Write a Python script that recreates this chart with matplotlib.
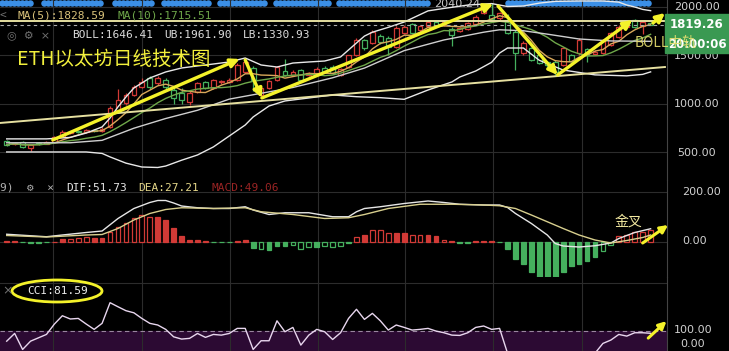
import numpy as np
import pandas as pd
import matplotlib
import matplotlib.pyplot as plt
from matplotlib.patches import Rectangle, Ellipse

matplotlib.use('Agg')

# ---- candle data (one per day) ----
opens = [615, 585, 608, 550, 600, 590, 612, 663, 700, 725, 712, 735, 720, 760, 920, 1010, 1095, 1180, 1265, 1215,
         1245, 1145, 1110, 1020, 1125, 1225, 1165, 1225, 1230, 1250, 1330, 1370, 1095, 1160, 1250, 1340, 1300, 1350,
         1300, 1320, 1370, 1380, 1300, 1380, 1505, 1660, 1630, 1700, 1680, 1590, 1735, 1825, 1760, 1800, 1840, 1815,
         1770, 1750, 1770, 1825, 1940, 1920, 1886, 1866, 1742, 1525, 1577, 1505, 1430, 1433, 1402, 1505, 1525, 1565,
         1520, 1525, 1608, 1690, 1790, 1866, 1800, 1830]
highs = [630, 610, 620, 585, 610, 615, 670, 730, 725, 735, 740, 745, 760, 975, 1150, 1110, 1200, 1270, 1290, 1290,
         1270, 1170, 1160, 1130, 1230, 1240, 1260, 1250, 1265, 1420, 1470, 1390, 1180, 1250, 1390, 1465, 1350, 1360,
         1330, 1380, 1390, 1400, 1370, 1510, 1680, 1670, 1760, 1720, 1700, 1800, 1810, 1840, 1815, 1860, 1850, 1870,
         1790, 1795, 1845, 1915, 2020, 2040, 1950, 1930, 1760, 1650, 1590, 1520, 1445, 1450, 1590, 1520, 1680, 1580,
         1555, 1675, 1745, 1810, 1860, 1880, 1855, 1845]
lows = [570, 575, 550, 520, 580, 585, 605, 655, 690, 700, 705, 715, 715, 750, 910, 990, 1080, 1160, 1150, 1200,
        1130, 1000, 1000, 990, 1110, 1150, 1150, 1210, 1220, 1240, 1320, 1130, 1060, 1150, 1240, 1290, 1290, 1240,
        1290, 1310, 1320, 1305, 1290, 1370, 1495, 1560, 1620, 1620, 1500, 1580, 1720, 1720, 1745, 1790, 1790, 1800,
        1600, 1740, 1760, 1815, 1930, 1870, 1870, 1720, 1350, 1510, 1440, 1410, 1380, 1300, 1390, 1430, 1510, 1430,
        1505, 1515, 1600, 1680, 1780, 1785, 1720, 1810]
closes = [580, 600, 560, 575, 590, 605, 660, 712, 715, 712, 730, 722, 745, 955, 1040, 1090, 1175, 1230, 1175, 1265,
          1175, 1060, 1040, 1110, 1215, 1165, 1245, 1235, 1245, 1400, 1430, 1250, 1165, 1235, 1380, 1300, 1330, 1250,
          1315, 1360, 1330, 1320, 1360, 1500, 1660, 1580, 1740, 1640, 1590, 1780, 1795, 1735, 1800, 1840, 1800, 1850,
          1710, 1780, 1830, 1900, 2000, 1880, 1938, 1732, 1525, 1629, 1453, 1422, 1400, 1330, 1577, 1443, 1660, 1505,
          1540, 1660, 1732, 1794, 1840, 1794, 1840, 1819]

# ---- BOLL bands ----
ub_idx = [0, 5, 8, 10, 12, 13, 14, 15, 16, 17, 18, 20, 22, 24, 26, 28, 30, 32, 34, 36, 38, 40, 42, 43, 44, 45, 46,
          48, 50, 53, 55, 58, 61, 63, 65, 67, 69, 72, 75, 77, 78, 79, 80, 81]
ub_val = [640, 640, 655, 700, 763, 855, 970, 1072, 1165, 1216, 1268, 1330, 1371, 1392, 1412, 1433, 1474, 1402, 1381,
          1422, 1433, 1443, 1485, 1557, 1629, 1700, 1740, 1790, 1845, 1960, 1985, 2020, 2035, 2005, 2010, 2040, 2058,
          2062, 2062, 2050, 2020, 2000, 1975, 1962]
mb_idx = [0, 8, 12, 16, 20, 24, 28, 32, 36, 41, 45, 50, 55, 60, 62, 65, 68, 72, 76, 81]
mb_val = [600, 600, 625, 750, 850, 935, 1050, 1110, 1170, 1270, 1370, 1550, 1660, 1740, 1765, 1755, 1720, 1670, 1650,
          1646]
lb_idx = [0, 10, 12, 13, 15, 17, 19, 20, 22, 24, 26, 28, 30, 31, 33, 35, 38, 41, 44, 47, 50, 53, 56, 57, 59, 61, 62,
          63, 65, 67, 70, 74, 78, 80, 81]
lb_val = [505, 505, 490, 454, 390, 350, 345, 360, 420, 474, 557, 670, 783, 866, 979, 1031, 1062, 1093, 1075, 1065,
          1048, 1144, 1227, 1278, 1340, 1430, 1525, 1577, 1577, 1450, 1350, 1300, 1290, 1305, 1331]

# ---- MACD ----
macd = [2, 2, -2, -3, -3, -2, 1, 11, 13, 16, 20, 16, 17, 40, 60, 77, 97, 107, 100, 100, 89, 56, 24, 7, 9, 2, -2, -2,
        -2, 4, 6, -23, -29, -33, -17, -15, -11, -29, -20, -20, -18, -20, -18, -4, 20, 27, 47, 47, 37, 37, 37, 29, 29,
        27, 23, 9, 4, -4, -4, 2, 3, 2, -2, -29, -69, -89, -120, -145, -145, -145, -120, -96, -88, -75, -60, -37, -13,
        23, 27, 40, 40, 47]
macd_fill = "ffffffffhhhffhhhhhhffffffhffffffhfffhhhfhhhfhfhhhffhhffhfffffffffffffffffffhhhhhhhhhhhf"
dif_idx = [0, 5, 7, 10, 12, 14, 16, 18, 19, 20, 21, 22, 24, 26, 28, 30, 31, 33, 35, 38, 41, 43, 44, 45, 47, 50, 53,
           55, 57, 60, 62, 63, 64, 66, 68, 69, 70, 72, 74, 76, 77, 79, 81]
dif_val = [30, 20, 27, 37, 43, 93, 133, 157, 165, 165, 155, 143, 136, 133, 133, 140, 127, 109, 116, 116, 100, 100,
           120, 133, 140, 153, 163, 157, 150, 147, 147, 137, 113, 73, 27, -7, -17, -21, -16, -5, 13, 37, 52]
dea_idx = [0, 5, 10, 12, 14, 16, 18, 20, 22, 26, 30, 32, 36, 40, 43, 45, 48, 52, 56, 60, 62, 64, 66, 68, 70, 72, 74,
           76, 78, 80, 81]
dea_val = [25, 19, 27, 29, 53, 87, 113, 129, 136, 133, 136, 120, 109, 93, 96, 109, 133, 150, 150, 147, 144, 133, 107,
           80, 53, 27, 7, -5, 5, 17, 27]

# ---- CCI ----
cci = [26, 81, -33, 26, 50, 74, 148, 207, 184, 188, 148, 110, 153, 300, 271, 243, 228, 188, 153, 141, 110, 57, 41,
       46, 81, 53, 74, 69, 81, 117, 117, -33, 29, 29, 171, 93, 124, -2, 69, 110, 93, 38, 86, 188, 253, 181, 224, 171,
       105, 141, 124, 105, 110, 117, 98, 86, 69, 67, 86, 124, 134, 110, 117, -60, -150, -200, -220, -230, -210, -180,
       -160, -130, -110, -90, -60, 10, 34, 74, 62, 86, 86, 82]

# ---- hand drawn trend arrows (day index, price) ----
arrow_tails = [(5.8, 629), (30.0, 1454), (32.1, 1062), (61.8, 2010), (69.3, 1299), (81.3, 1835)]
arrow_heads = [(29.3, 1464), (32.1, 1062), (61.2, 2031), (69.3, 1299), (78.7, 1866), (82.8, 1938)]
trend_x = [-0.84, 82.8]
trend_y = [804, 1381]
resist_level = 1859
last_price = 1819.26

W, H = 729, 351
RED, GREEN = '#d23a36', '#45b05e'
GRID = '#2c2c2c'

fig = plt.figure(figsize=(W / 100, H / 100), dpi=100, facecolor='black')


def px_axes(top, bottom, right, zorder):
    a = fig.add_axes([0, 1 - bottom / H, right / W, (bottom - top) / H], zorder=zorder)
    a.set_facecolor('none')
    return a


bg = px_axes(0, H, W, 0)
bg.set_facecolor('black')
fg = px_axes(0, H, W, 5)
for a in (bg, fg):
    a.set_xlim(0, W)
    a.set_ylim(H, 0)
    a.axis('off')

ax = px_axes(0, 180, 667, 1)
ax_macd = px_axes(180, 277, 667, 1)
ax_cci = px_axes(277, 351, 667, 1)

x = np.arange(len(closes))
for a in (ax, ax_macd, ax_cci):
    a.set_xlim(-0.843, 83.06)
    a.set_xticks([5.8, 17, 28.1, 39.2, 50.1, 61.2, 72.4])
    a.grid(True, color=GRID, lw=0.8)
    a.tick_params(left=False, bottom=False, labelleft=False, labelbottom=False)
    for s in ('top', 'left', 'bottom'):
        a.spines[s].set_visible(False)
    a.spines['right'].set_color('#444444')
    a.set_axisbelow(True)

# main panel
ax.set_ylim(216, 2072)
ax.set_yticks([500, 1000, 1500, 2000])
o, c = np.array(opens), np.array(closes)
cols = [RED if cc >= oo else GREEN for oo, cc in zip(o, c)]
ax.vlines(x, lows, highs, colors=cols, lw=0.9, zorder=2)
ax.bar(x, np.maximum(np.abs(c - o), 8), bottom=np.minimum(o, c), width=0.6,
       facecolor='black', edgecolor=cols, lw=0.9, zorder=2)

ma5 = pd.Series(closes).rolling(5, min_periods=1).mean()
ma10 = pd.Series(closes).rolling(10, min_periods=1).mean()
ax.plot(x, ma5, color='#d9a85a', lw=1, zorder=3)
ax.plot(x, ma10, color='#6fa84a', lw=1, zorder=3)
ax.plot(ub_idx, ub_val, color='#e8e8e8', lw=1, zorder=3)
ax.plot(mb_idx, mb_val, color='#cfcfcf', lw=1, zorder=3)
ax.plot(lb_idx, lb_val, color='#e8e8e8', lw=1, zorder=3)

ax.plot(trend_x, trend_y, color='#e6e0a0', lw=1.4, zorder=4)
ax.axhline(resist_level, color='#e6e0a0', lw=1.4, zorder=4)
ax.axhline(last_price, color='#aaaaaa', lw=0.8, ls=(0, (3, 3)), zorder=4)
for t, h in zip(arrow_tails, arrow_heads):
    ax.annotate('', xy=h, xytext=t, annotation_clip=False,
                arrowprops=dict(arrowstyle='-|>', color='#f4f22a', lw=2.4, mutation_scale=13,
                                shrinkA=0, shrinkB=0), zorder=6)

# MACD panel
ax_macd.set_ylim(-141, 247)
ax_macd.set_yticks([0, 200])
mcol = [RED if v > 0 else GREEN for v in macd]
mface = [mc if f == 'f' else 'black' for mc, f in zip(mcol, macd_fill)]
ax_macd.bar(x, macd, width=0.6, facecolor=mface, edgecolor=mcol, lw=0.9, zorder=2)
ax_macd.plot(dif_idx, dif_val, color='#e6e6e6', lw=1, zorder=3)
ax_macd.plot(dea_idx, dea_val, color='#d8cf8e', lw=1, zorder=3)
ax_macd.annotate('', xy=(83.2, 67), xytext=(80.0, -5), annotation_clip=False,
                 arrowprops=dict(arrowstyle='-|>', color='#f4f22a', lw=2.2, mutation_scale=11,
                                 shrinkA=0, shrinkB=0), zorder=6)

# CCI panel
ax_cci.set_ylim(-44, 483)
ax_cci.set_yticks([440])
ax_cci.axhspan(-100, 100, color='#2c0a33', zorder=0)
ax_cci.axhline(100, color='#9a86a0', lw=0.8, ls=(0, (4, 3)), zorder=1)
ax_cci.plot(x, cci, color='#e8d6ee', lw=1, zorder=3)
ax_cci.annotate('', xy=(83.0, 169), xytext=(80.7, 48), annotation_clip=False,
                arrowprops=dict(arrowstyle='-|>', color='#f4f22a', lw=2.2, mutation_scale=11,
                                shrinkA=0, shrinkB=0), zorder=6)

# blue beaded strip along the top
bead_segments = [(0, 33), (42, 104), (113, 156), (162, 210), (218, 266), (274, 332), (337, 430), (506, 650)]
for a0, a1 in bead_segments:
    bx = np.arange(a0 + 2, a1 - 1, 4)
    bg.scatter(bx, np.full(len(bx), 2.5), s=22, color='#3b8fe6', lw=0, zorder=1)
bg.text(457, 4, '2040.24', color='#c8c8c8', fontsize=8, ha='center', va='center', zorder=2)

mono = 'DejaVu Sans Mono'
cjk = ['Noto Sans CJK SC', 'DejaVu Sans']
fg.text(-1, 16, '<', color='#707070', fontsize=8, family=mono, va='center')
fg.text(18, 16, 'MA(5):1828.59', color='#d9c27a', fontsize=8, family=mono, va='center')
fg.text(118, 16, 'MA(10):1715.51', color='#6fa84a', fontsize=8, family=mono, va='center')
fg.text(7, 35, '◎  ⚙  ×', color='#707070', fontsize=8, va='center')
fg.text(72, 35, 'BOLL:1646.41', color='#dcdcdc', fontsize=8, family=mono, va='center')
fg.text(164, 35, 'UB:1961.90', color='#dcdcdc', fontsize=8, family=mono, va='center')
fg.text(243, 35, 'LB:1330.93', color='#dcdcdc', fontsize=8, family=mono, va='center')
fg.text(17, 59, 'ETH以太坊日线技术图', color='#f2f03c', fontsize=14, family=cjk, va='center')

fg.text(0, 188, '9)  ⚙  ×', color='#b0b0b0', fontsize=8, family=mono, va='center')
fg.text(66, 188, 'DIF:51.73', color='#e6e6e6', fontsize=8, family=mono, va='center')
fg.text(138, 188, 'DEA:27.21', color='#e6d88a', fontsize=8, family=mono, va='center')
fg.text(212, 188, 'MACD:49.06', color='#9a2424', fontsize=8, family=mono, va='center')
fg.text(628, 222, '金叉', color='#f2e8a0', fontsize=10, family=cjk, ha='center', va='center')

fg.text(2, 291, '×', color='#707070', fontsize=9, va='center')
fg.text(27, 291, 'CCI:81.59', color='#eeeeee', fontsize=8, family=mono, va='center')
fg.add_patch(Ellipse((57, 291), 90, 22, fill=False, edgecolor='#f4f22a', lw=2))

# right axis labels
for val, yy, xx in [('2000.00', 7, 697), ('1500.00', 56, 697), ('1000.00', 104, 697), ('500.00', 153, 697),
                    ('200.00', 192, 702), ('0.00', 241, 695), ('100.00', 330, 693), ('0.00', 344, 693)]:
    fg.text(xx, yy, val, color='#d0d0d0', fontsize=8, ha='center', va='center')
fg.add_patch(Rectangle((665, 14), 64, 39, color='#3a9952', zorder=3))
fg.text(697, 24.5, '1819.26', color='white', fontsize=8.5, weight='bold', ha='center', va='center', zorder=4)
fg.text(697, 45, '20:00:06', color='white', fontsize=8.5, weight='bold', ha='center', va='center', zorder=4)
fg.text(635, 43, 'BOLL中轨', color='#e8e070', fontsize=10, family=cjk, va='center', alpha=0.9, zorder=5)

plt.savefig('out.png', dpi=100, facecolor='black')
plt.close()
